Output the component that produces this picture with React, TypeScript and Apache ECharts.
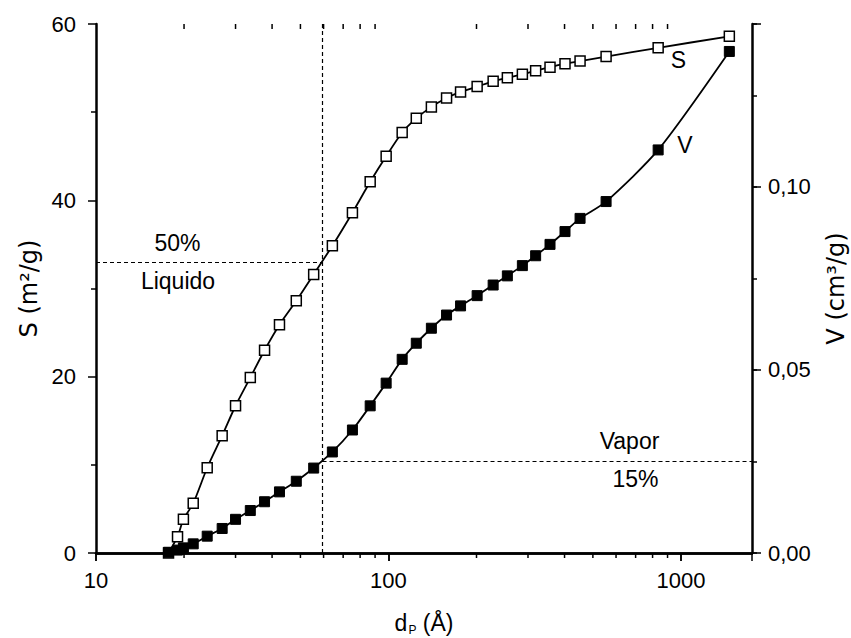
import React, { useEffect, useRef } from 'react';
import * as echarts from 'echarts';

// Pore diameter d_P (Å)
const poreDiameter = [17.7, 19.0, 19.9, 21.5, 24.0, 27.0, 30.0, 33.7, 37.7, 42.4, 48.4, 55.5, 64.3, 75.3, 86.6, 98.2, 111.4, 124.5, 140.2, 158, 176.4, 201, 228, 255, 287, 318.6, 356.8, 401.5, 452, 554.8, 835.9, 1464];
// Cumulative surface area S (m²/g)
const surfaceArea = [0, 1.85, 3.82, 5.64, 9.67, 13.3, 16.7, 19.9, 23.0, 25.9, 28.6, 31.6, 34.85, 38.6, 42.1, 45.0, 47.7, 49.3, 50.6, 51.6, 52.3, 52.9, 53.5, 53.9, 54.3, 54.7, 55.1, 55.5, 55.8, 56.3, 57.3, 58.6];
// Cumulative pore volume V (cm³/g)
const poreVolume = [0.0002, 0.0008, 0.0014, 0.0025, 0.0046, 0.0067, 0.0092, 0.0116, 0.014, 0.0167, 0.0196, 0.0232, 0.0276, 0.0336, 0.0402, 0.0464, 0.0529, 0.0573, 0.0614, 0.065, 0.0675, 0.0703, 0.0732, 0.0757, 0.0785, 0.0812, 0.0843, 0.0878, 0.0914, 0.096, 0.1101, 0.137];

const xMin = 10;
const xMax = 1750;
const xTickLabels = [10, 100, 1000];
const minorXTicks = [20, 30, 40, 50, 60, 70, 80, 90, 200, 300, 400, 500, 600, 700, 800, 900];
const sMin = 0;
const sMax = 60;
const sInterval = 20;
const vMax = 0.1445;
const vLabelStep = 0.05;

// Reference lines
const crossD = 59.5;
const liquidS = 33;
const vaporV = 0.025;

const FONT = '"Liberation Sans", Arial, Helvetica, sans-serif';
const TITLE_FONT = '"DejaVu Sans", "Liberation Sans", Arial, sans-serif';

export default function App() {
  const ref = useRef<HTMLDivElement>(null);

  useEffect(() => {
    if (!ref.current) return;
    const chart = echarts.init(ref.current, undefined, { renderer: 'svg' });
    const sData = poreDiameter.map((d, i) => [d, surfaceArea[i]]);
    const vData = poreDiameter.map((d, i) => [d, poreVolume[i]]);
    const dash = { color: '#000', width: 1.2, type: [4, 3] as any };

    const option: any = {
      animation: false,
      backgroundColor: '#fff',
      textStyle: { fontFamily: FONT, color: '#000' },
      grid: { left: 96, right: 99, top: 24, bottom: 85, containLabel: false, outerBoundsMode: 'none' },
      xAxis: [
        {
          type: 'log',
          logBase: 10,
          min: xMin,
          max: xMax,
          position: 'bottom',
          axisLine: { show: true, lineStyle: { color: '#000', width: 2.5 } },
          axisTick: { show: true, inside: false, length: 8, lineStyle: { color: '#000', width: 1.5 } },
          axisLabel: {
            fontSize: 22,
            color: '#000',
            margin: 16,
            fontFamily: FONT,
            showMaxLabel: false,
            formatter: (v: number) => {
              const r = Math.round(v);
              return xTickLabels.some((t) => Math.abs(t - v) < 1e-6 * t) ? String(r) : '';
            },
          },
          splitLine: { show: false },
          name: '{d|d}{p|P}{t| (Å)}',
          nameLocation: 'middle',
          nameGap: 58,
          nameTextStyle: {
            rich: {
              d: { fontSize: 23, lineHeight: 23, verticalAlign: 'top', fontFamily: FONT, color: '#000' },
              p: { fontSize: 12, lineHeight: 12, verticalAlign: 'top', padding: [13, 0, 0, 1], fontFamily: FONT, color: '#000' },
              t: { fontSize: 23, lineHeight: 23, verticalAlign: 'top', fontFamily: FONT, color: '#000' },
            },
          },
        },
        {
          type: 'log',
          logBase: 10,
          min: xMin,
          max: xMax,
          position: 'top',
          axisLine: { show: true, lineStyle: { color: '#000', width: 2.5 } },
          axisTick: { show: true, inside: true, length: 8, lineStyle: { color: '#000', width: 1.5 } },
          axisLabel: { show: false },
          splitLine: { show: false },
        },
      ],
      yAxis: [
        {
          type: 'value',
          position: 'left',
          min: sMin,
          max: sMax,
          interval: sInterval,
          axisLine: { show: true, lineStyle: { color: '#000', width: 2.5 } },
          axisTick: { show: true, inside: false, length: 8, lineStyle: { color: '#000', width: 1.5 } },
          minorTick: { show: true, splitNumber: 2, length: 5, lineStyle: { color: '#000', width: 1.5 } },
          axisLabel: { fontSize: 22, color: '#000', margin: 20, fontFamily: FONT },
          splitLine: { show: false },
          name: 'S (m²/g)',
          nameLocation: 'middle',
          nameGap: 50,
          nameRotate: 90,
          nameTextStyle: { fontSize: 24, color: '#000', fontFamily: TITLE_FONT },
        },
        {
          type: 'value',
          position: 'right',
          min: 0,
          max: vMax,
          interval: 0.025,
          axisLine: { show: true, lineStyle: { color: '#000', width: 2.5 } },
          axisTick: { show: true, inside: false, length: 5, lineStyle: { color: '#000', width: 1.5 } },
          axisLabel: {
            fontSize: 22,
            color: '#000',
            margin: 16,
            fontFamily: FONT,
            formatter: (v: number) => {
              const k = v / vLabelStep;
              if (Math.abs(k - Math.round(k)) > 1e-6) return '';
              return v.toFixed(2).replace('.', ',');
            },
          },
          splitLine: { show: false },
          name: 'V (cm³/g)',
          nameLocation: 'middle',
          nameGap: 72,
          nameRotate: 90,
          nameTextStyle: { fontSize: 24, color: '#000', fontFamily: TITLE_FONT },
        },
        {
          type: 'value',
          position: 'right',
          min: 0,
          max: vMax,
          interval: vLabelStep,
          axisLine: { show: false },
          axisTick: { show: true, inside: false, length: 9, lineStyle: { color: '#000', width: 1.5 } },
          axisLabel: { show: false },
          splitLine: { show: false },
        },
      ],
      series: [
        {
          name: 'S',
          type: 'line',
          xAxisIndex: 0,
          yAxisIndex: 0,
          data: sData,
          smooth: 0.25,
          symbol: 'rect',
          symbolSize: 10,
          lineStyle: { color: '#000', width: 1.8 },
          itemStyle: { color: '#fff', borderColor: '#000', borderWidth: 1.5 },
          z: 3,
          markLine: {
            silent: true,
            symbol: 'none',
            label: { show: false },
            lineStyle: dash,
            data: [
              { xAxis: crossD },
              [{ coord: [xMin, liquidS] }, { coord: [crossD, liquidS] }],
            ],
          },
        },
        {
          name: 'V',
          type: 'line',
          xAxisIndex: 0,
          yAxisIndex: 1,
          data: vData,
          smooth: 0.25,
          symbol: 'rect',
          symbolSize: 10,
          lineStyle: { color: '#000', width: 1.8 },
          itemStyle: { color: '#000', borderColor: '#000', borderWidth: 1 },
          z: 4,
          markLine: {
            silent: true,
            symbol: 'none',
            label: { show: false },
            lineStyle: dash,
            data: [[{ coord: [crossD, vaporV] }, { coord: [xMax, vaporV] }]],
          },
        },
        {
          type: 'custom',
          xAxisIndex: 0,
          yAxisIndex: 0,
          silent: true,
          clip: false,
          data: minorXTicks.map((v) => [v, sMin]),
          encode: { x: 0, y: 1 },
          renderItem: (_params: any, api: any) => {
            const v = api.value(0);
            const b = api.coord([v, sMin]);
            const t = api.coord([v, sMax]);
            return {
              type: 'group',
              children: [
                { type: 'line', shape: { x1: b[0], y1: b[1], x2: b[0], y2: b[1] + 5 }, style: { stroke: '#000', lineWidth: 1.5 } },
                { type: 'line', shape: { x1: t[0], y1: t[1], x2: t[0], y2: t[1] + 5 }, style: { stroke: '#000', lineWidth: 1.5 } },
              ],
            };
          },
        },
      ],
      graphic: [
        { type: 'text', x: 177.5, y: 242.5, style: { text: '50%', font: `23px ${FONT}`, fill: '#000', align: 'center', verticalAlign: 'middle' } },
        { type: 'text', x: 178, y: 281, style: { text: 'Liquido', font: `23px ${FONT}`, fill: '#000', align: 'center', verticalAlign: 'middle' } },
        { type: 'text', x: 629.5, y: 441, style: { text: 'Vapor', font: `23px ${FONT}`, fill: '#000', align: 'center', verticalAlign: 'middle' } },
        { type: 'text', x: 635.5, y: 479, style: { text: '15%', font: `23px ${FONT}`, fill: '#000', align: 'center', verticalAlign: 'middle' } },
        { type: 'text', x: 678.5, y: 59.5, style: { text: 'S', font: `23px ${FONT}`, fill: '#000', align: 'center', verticalAlign: 'middle' } },
        { type: 'text', x: 685, y: 144.5, style: { text: 'V', font: `23px ${FONT}`, fill: '#000', align: 'center', verticalAlign: 'middle' } },
      ],
    };

    chart.setOption(option);
    return () => chart.dispose();
  }, []);

  return (
    <div
      ref={ref}
      style={{ position: 'fixed', left: 0, top: 0, width: 851, height: 638, background: '#fff' }}
    />
  );
}
